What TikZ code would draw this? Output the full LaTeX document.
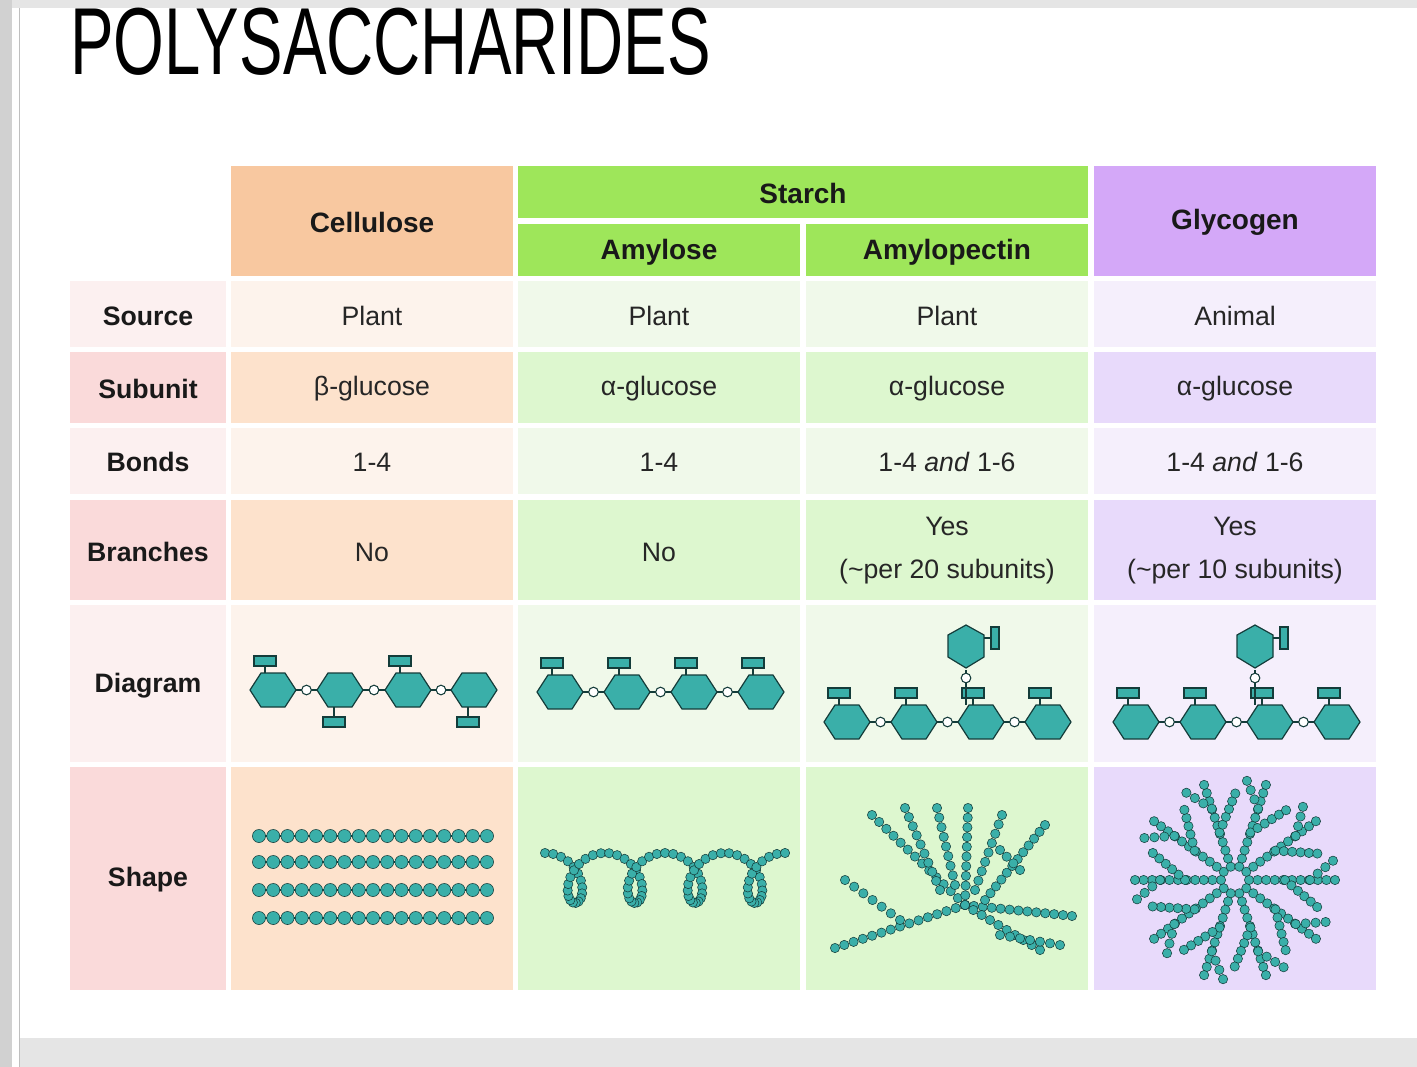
\documentclass[tikz,border=0pt]{standalone}
\usepackage{fontspec}
\setmainfont{Liberation Sans}
\usetikzlibrary{calc}
\definecolor{teal1}{RGB}{58,175,169}
\definecolor{tealdk}{RGB}{20,60,58}
\definecolor{celH}{RGB}{248,200,160}
\definecolor{celL}{RGB}{253,243,236}
\definecolor{celD}{RGB}{253,226,204}
\definecolor{staH}{RGB}{158,230,90}
\definecolor{staL}{RGB}{240,249,234}
\definecolor{staD}{RGB}{221,247,207}
\definecolor{glyH}{RGB}{212,168,248}
\definecolor{glyL}{RGB}{245,239,252}
\definecolor{glyD}{RGB}{232,218,251}
\definecolor{labL}{RGB}{252,240,240}
\definecolor{labD}{RGB}{250,218,218}
\tikzset{
  hexs/.style={fill=teal1,draw=tealdk,line width=0.9pt},
  sbox/.style={fill=teal1,draw=tealdk,line width=0.8pt},
  bond/.style={draw=tealdk,line width=0.8pt},
  bead/.style={fill=teal1,draw=tealdk,line width=0.4pt},
  lab/.style={font=\fontsize{20}{24}\selectfont\bfseries,text=black!90},
  txt/.style={font=\fontsize{20}{24}\selectfont,text=black!85,align=center},
  hdr/.style={font=\fontsize{21}{24}\selectfont\bfseries,text=black!90},
}
% flat hexagon at (x,y)
\newcommand\hexa[2]{\draw[hexs] ({#1-23},{#2}) -- ({#1-12},{#2-17}) -- ({#1+12},{#2-17}) -- ({#1+23},{#2}) -- ({#1+12},{#2+17}) -- ({#1-12},{#2+17}) -- cycle;}
% side group above / below
\newcommand\boxup[2]{\draw[bond] ({#1-8},{#2-17}) -- ({#1-8},{#2-24});\draw[sbox] ({#1-19},{#2-34}) rectangle ({#1+3},{#2-24});}
\newcommand\boxdn[2]{\draw[bond] ({#1-6},{#2+17}) -- ({#1-6},{#2+27});\draw[sbox] ({#1-17},{#2+27}) rectangle ({#1+5},{#2+37});}
% glycosidic link between two hexagons
\newcommand\link[2]{\draw[bond] ({#1-11},{#2}) -- ({#1+11},{#2});\draw[bond,fill=white] (#1,#2) circle[radius=3.6pt];}
% row of beads between two named coordinates
\newcommand\beads[3]{\foreach \k in {0,...,#3}{\pgfmathsetmacro\fr{\k/#3}\draw[bead] ($(#1)!\fr!(#2)$) circle[radius=3.5pt];}}
\begin{document}
\begin{tikzpicture}[x=0.75pt,y=0.75pt,yscale=-1,xscale=1]
\useasboundingbox (0,0) rectangle (1417,1067);
% page
\fill[white] (0,0) rectangle (1417,1067);
\fill[black!10] (0,0) rectangle (1417,8);
\fill[black!18] (0,0) rectangle (12,1067);
\fill[black!10] (20,1038) rectangle (1417,1067);
\draw[black!25] (19,8) -- (19,1067);

% title
\node[anchor=base west,inner sep=0pt,xscale=0.72,yscale=1.05,font=\fontsize{68}{70}\selectfont] (title) at (70,74) {POLYSACCHARIDES};

% header cells
\fill[celH] (231,166) rectangle (513,276);
\fill[staH] (518,166) rectangle (1088,218);
\fill[staH] (518,224) rectangle (800,276);
\fill[staH] (806,224) rectangle (1088,276);
\fill[glyH] (1094,166) rectangle (1376,276);
\node[hdr] (hcel) at (372,222) {Cellulose};
\node[hdr] (hsta) at (803,193) {Starch};
\node[hdr] (hamy) at (659,252) {Amylose};
\node[hdr] (hapc) at (947,252) {Amylopectin};
\node[hdr] (hgly) at (1235,222) {Glycogen};

% body cells
\foreach \ya/\yb/\t in {281/347/L,352/423/D,428/494/L,500/600/D,605/762/L,767/990/D}{
  \fill[lab\t] (70,\ya) rectangle (226,\yb);
  \fill[cel\t] (231,\ya) rectangle (513,\yb);
  \fill[sta\t] (518,\ya) rectangle (800,\yb);
  \fill[sta\t] (806,\ya) rectangle (1088,\yb);
  \fill[gly\t] (1094,\ya) rectangle (1376,\yb);
}
% row labels
\node[lab] (lsrc) at (148,316) {Source};
\node[lab] (lsub) at (148,389) {Subunit};
\node[lab] (lbon) at (148,462) {Bonds};
\node[lab] (lbra) at (148,552) {Branches};
\node[lab] (ldia) at (148,686) {Diagram};
\node[lab] (lsha) at (148,880) {Shape};
% entries
\node[txt] (src1) at (372,316) {Plant};
\node[txt] (src2) at (659,316) {Plant};
\node[txt] (src3) at (947,316) {Plant};
\node[txt] (src4) at (1235,316) {Animal};
\node[txt] (sub1) at (372,389) {β-glucose};
\node[txt] (sub2) at (659,389) {α-glucose};
\node[txt] (sub3) at (947,389) {α-glucose};
\node[txt] (sub4) at (1235,389) {α-glucose};
\node[txt] (bon1) at (372,462) {1-4};
\node[txt] (bon2) at (659,462) {1-4};
\node[txt] (bon3) at (947,462) {1-4 \textit{and} 1-6};
\node[txt] (bon4) at (1235,462) {1-4 \textit{and} 1-6};
\node[txt] (bra1) at (372,552) {No};
\node[txt] (bra2) at (659,552) {No};
\node[txt,text depth=0pt] (bra3) at (947,548) {Yes\\[8pt](\textasciitilde per 20 subunits)};
\node[txt,text depth=0pt] (bra4) at (1235,548) {Yes\\[8pt](\textasciitilde per 10 subunits)};

% diagram: cellulose
\foreach \x in {273,340,408,474}{\hexa{\x}{690}}
\boxup{273}{690} \boxdn{340}{690} \boxup{408}{690} \boxdn{474}{690}
\foreach \x in {306.5,374,441}{\link{\x}{690}}
% diagram: amylose
\foreach \x in {560,627,694,761}{\hexa{\x}{692}\boxup{\x}{692}}
\foreach \x in {593.5,660.5,727.5}{\link{\x}{692}}
% diagram: amylopectin and glycogen
\foreach \dx in {0,289}{
  \foreach \x in {847,914,981,1048}{\hexa{\x+\dx}{722}\boxup{\x+\dx}{722}}
  \foreach \x in {880.5,947.5,1014.5}{\link{\x+\dx}{722}}
  \draw[bond] (966+\dx,670) -- (966+\dx,705);
  \draw[bond,fill=white] (966+\dx,678) circle[radius=3.6pt];
  \draw[hexs] (966+\dx,625) -- (984+\dx,635) -- (984+\dx,657) -- (966+\dx,668) -- (948+\dx,657) -- (948+\dx,635) -- cycle;
  \draw[bond] (984+\dx,638) -- (991+\dx,638);
  \draw[sbox] (991+\dx,627) rectangle (999+\dx,649);
}

% shape: cellulose
\foreach \y in {836,862,890,918}{
  \draw[bond,line width=1.2pt] (258,\y) -- (486,\y);
  \foreach \k in {0,...,16}{\draw[bead] (259+\k*14.25,\y) circle[radius=4.9pt];}}
% shape: amylose coil
\foreach \k in {0,...,90}{
  \pgfmathsetmacro\tt{\k*16+90}
  \pgfmathsetmacro\px{545+\k*2.667-20*cos(\tt)}
  \pgfmathsetmacro\py{878-25*sin(\tt)}
  \draw[bead] (\px,\py) circle[radius=3.5pt];
}
% shape: amylopectin
\foreach \xa/\ya/\xb/\yb/\n in {
  835/948/965/905/14, 965/905/1072/916/12, 965/905/1040/950/9,
  965/905/872/815/13, 940/890/905/808/9, 955/885/937/808/8,
  965/905/968/808/10, 975/890/1002/815/8, 985/900/1045/825/11,
  900/920/845/880/6, 1000/935/1060/945/6, 1020/870/1000/850/3}{
  \coordinate (pa) at (\xa,\ya); \coordinate (pb) at (\xb,\yb);
  \beads{pa}{pb}{\n}}
% shape: glycogen
\coordinate (gc) at (1235,880);
\foreach \ang in {0,36,...,324}{
  \coordinate (g0) at ($(gc)+(\ang:14)$);
  \coordinate (g1) at ($(gc)+(\ang:100)$);
  \coordinate (g2) at ($(gc)+(\ang:50)$);
  \coordinate (g3) at ($(g2)+(\ang+40:42)$);
  \coordinate (g4) at ($(gc)+(\ang:75)$);
  \coordinate (g5) at ($(g4)+(\ang-40:30)$);
  \beads{g0}{g1}{10}
  \beads{g2}{g3}{5}
  \beads{g4}{g5}{3}
}
\end{tikzpicture}
\end{document}
